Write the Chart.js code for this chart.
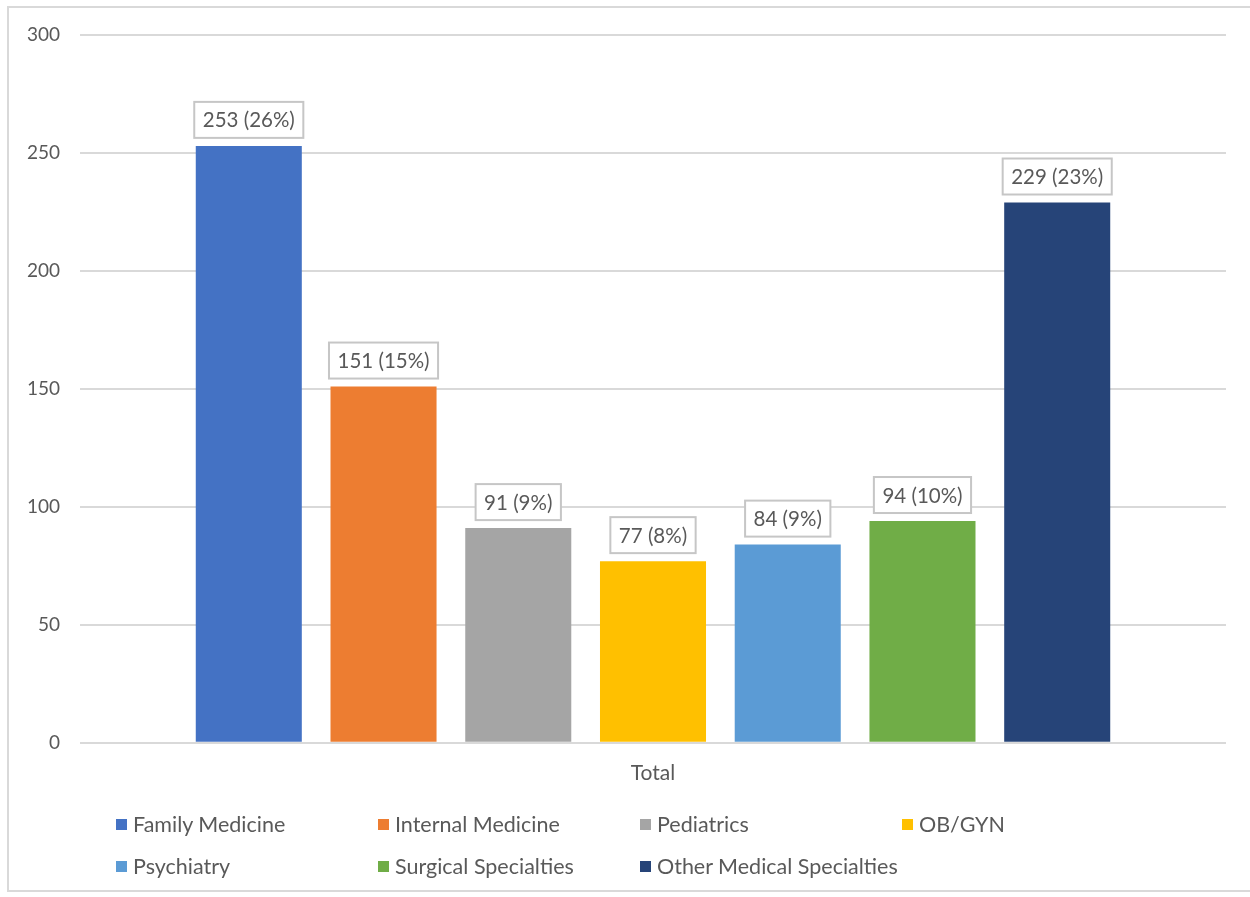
<!DOCTYPE html>
<html>
<head>
<meta charset="utf-8">
<script src="https://cdn.jsdelivr.net/npm/chart.js@4"></script>
<style>
  html, body { margin: 0; padding: 0; background: #fff; overflow: hidden; }
  #wrap { position: relative; width: 1250px; height: 897px; overflow: hidden; }
  #frame { position: absolute; left: 7px; top: 6px; width: 1400px; height: 886px; border-left: 2px solid #d9d9d9; border-top: 2px solid #d9d9d9; border-bottom: 2px solid #d9d9d9; box-sizing: border-box; }
  #myChart { position: absolute; left: 0; top: 0; }
  #legend { position: absolute; left: 116px; top: 812px; display: grid; grid-template-columns: repeat(4, 262px); row-gap: 18px;
            font-family: Lato, sans-serif; font-size: 21.5px; color: #595959; }
  .legend-item { display: flex; align-items: center; height: 24px; white-space: nowrap; }
  .legend-box { width: 11px; height: 11px; margin-right: 6px; }
</style>
</head>
<body>
<div id="wrap">
  <div id="frame"></div>
  <canvas id="myChart" width="1250" height="897"></canvas>
  <div id="legend"></div>
</div>
<script>
const categories = ["Total"];
const specialties = ["Family Medicine", "Internal Medicine", "Pediatrics", "OB/GYN", "Psychiatry", "Surgical Specialties", "Other Medical Specialties"];
const counts = [253, 151, 91, 77, 84, 94, 229];
const percents = [26, 15, 9, 8, 9, 10, 23];
const colors = ["#4472C4", "#ED7D31", "#A5A5A5", "#FFC000", "#5B9BD5", "#70AD47", "#264478"];
const yTicks = [0, 50, 100, 150, 200, 250, 300];

const textColor = "#595959";
const fontFamily = "Lato, sans-serif";

// boxed value labels above each bar
const valueLabels = {
    id: "valueLabels",
    afterDatasetsDraw(chart) {
        const ctx = chart.ctx;
        ctx.save();
        ctx.font = "20.5px " + fontFamily;
        ctx.textAlign = "center";
        ctx.textBaseline = "middle";
        chart.data.datasets.forEach((ds, i) => {
            const bar = chart.getDatasetMeta(i).data[0];
            const text = counts[i] + " (" + percents[i] + "%)";
            const w = ctx.measureText(text).width + 17;
            const h = 36;
            const bottom = bar.y - 8;
            ctx.fillStyle = "#fff";
            ctx.fillRect(bar.x - w / 2, bottom - h, w, h);
            ctx.strokeStyle = "#c6c6c6";
            ctx.lineWidth = 2;
            ctx.strokeRect(bar.x - w / 2, bottom - h, w, h);
            ctx.fillStyle = textColor;
            ctx.fillText(text, bar.x, bottom - h / 2 + 1);
        });
        ctx.restore();
    }
};

const datasets = specialties.map((name, i) => ({
    label: name,
    data: [counts[i]],
    backgroundColor: colors[i],
    borderWidth: 0,
    categoryPercentage: 0.823,
    barPercentage: 0.787
}));

const graph = document.getElementById("myChart").getContext("2d");
const myChart = new Chart(graph, {
    type: "bar",
    data: { labels: categories, datasets: datasets },
    options: {
        responsive: false,
        animation: false,
        layout: { padding: { top: 35, left: 8, right: 24, bottom: 101 } },
        plugins: { legend: { display: false }, tooltip: { enabled: false } },
        scales: {
            x: {
                grid: { display: false },
                border: { display: false },
                ticks: { color: textColor, font: { family: fontFamily, size: 21 }, padding: 10 }
            },
            y: {
                min: 0,
                max: 300,
                afterBuildTicks: scale => { scale.ticks = yTicks.map(v => ({ value: v })); },
                afterFit: scale => { scale.width = 72; },
                grid: { color: "#d9d9d9", lineWidth: 2, drawTicks: false },
                border: { display: false },
                ticks: { color: textColor, font: { family: fontFamily, size: 19 }, padding: 20 }
            }
        }
    },
    plugins: [valueLabels]
});

// legend in Excel style grid, 4 columns
const legendWrapper = document.getElementById("legend");
myChart.data.datasets.forEach(ds => {
    const item = document.createElement("div");
    item.classList.add("legend-item");
    const box = document.createElement("span");
    box.classList.add("legend-box");
    box.style.background = ds.backgroundColor;
    const label = document.createElement("span");
    label.textContent = ds.label;
    item.append(box, label);
    legendWrapper.append(item);
});
</script>
</body>
</html>
